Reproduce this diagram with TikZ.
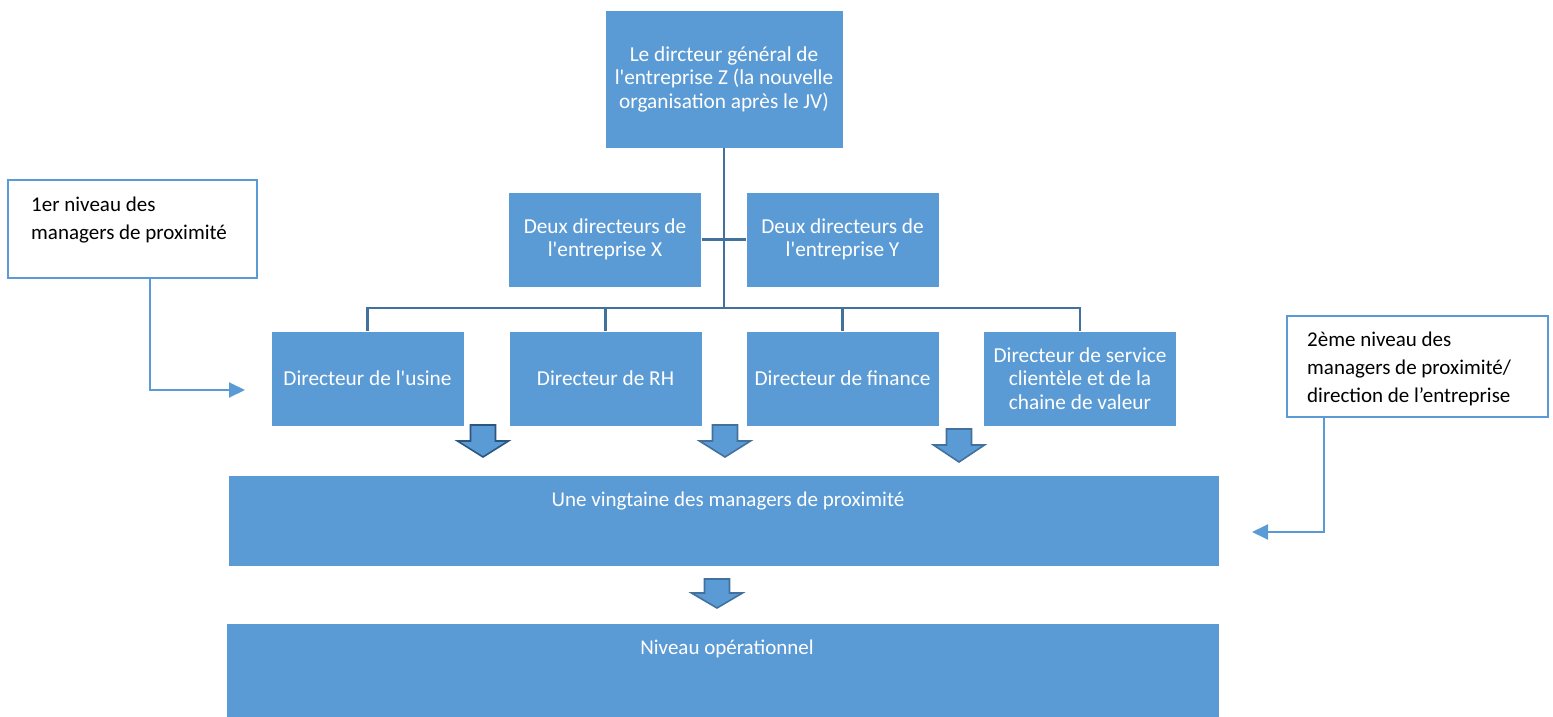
\documentclass[tikz,border=0pt]{standalone}
\usepackage{fontspec}
\setmainfont{Carlito}[Ligatures=TeXOff]
\usetikzlibrary{arrows.meta}
\definecolor{boxblue}{HTML}{5B9BD5}
\definecolor{linblue}{HTML}{41719C}
\definecolor{darkblue}{HTML}{2A5680}
\newcommand\blockarr[5]{%
  \filldraw[fill=boxblue, draw=#5, line width=1.6pt, line join=miter]
    (#1-12.5,#2) -- (#1+12.5,#2) -- (#1+12.5,#3) -- (#1+25.5,#3) -- (#1,#4)
    -- (#1-25.5,#3) -- (#1-12.5,#3) -- cycle;}
\begin{document}
\begin{tikzpicture}[x=1pt,y=-1pt,
  box/.style={draw=white, line width=0.8pt, fill=boxblue, text=white, align=center,
    inner sep=0pt, font=\fontsize{21.3}{23.5}\selectfont},
  std/.style={minimum width=193, minimum height=95},
  wtext/.style={text=white, inner sep=0pt, font=\fontsize{21}{23.5}\selectfont},
  conn/.style={draw=linblue, line width=2.2pt},
  callbox/.style={draw=boxblue, line width=1.2pt, fill=white, inner sep=0pt},
  ctext/.style={text=black, align=left, inner sep=0pt, font=\fontsize{21}{27.7}\selectfont},
  cline/.style={draw=boxblue, line width=2pt, -{Triangle[length=16pt,width=15pt]}}]
\useasboundingbox (0,0) rectangle (1553,717);

% org boxes
\node[box, minimum width=238, minimum height=138] (gen) at (724,79)
  {Le dircteur général de\\l'entreprise Z (la nouvelle\\organisation après le JV)};
\node[box,std] (dx) at (605,239.5) {Deux directeurs de\\l'entreprise X};
\node[box,std] (dy) at (842.5,239.5) {Deux directeurs de\\l'entreprise Y};
\node[box,std] (usine) at (367.5,378.5) {Directeur de l'usine};
\node[box,std] (rh) at (605.5,378.5) {Directeur de RH};
\node[box,std] (fin) at (842.5,378.5) {Directeur de finance};
\node[box,std] (svc) at (1080,378.5) {Directeur de service\\clientèle et de la\\chaine de valeur};

\node[box, minimum width=991, minimum height=91] (vint) at (723.5,520.5) {};
\node[wtext] (vintlbl) at (728,501) {Une vingtaine des managers de proximité};
\node[box, minimum width=993, minimum height=96] (op) at (722.5,671) {};
\node[wtext] (oplbl) at (727,649) {Niveau opérationnel};

% org connectors
\coordinate (hub) at (724,308);
\draw[conn] (gen.south) -- (hub);
\draw[conn] (dx.east) -- (dy.west);
\foreach \n in {usine,rh,fin,svc} \draw[conn] (hub) -| (\n.north);

% block arrows
\blockarr{483}{425}{441}{457}{darkblue}
\blockarr{725}{425}{441}{457}{linblue}
\blockarr{959}{429}{445}{462}{linblue}
\blockarr{717}{579}{593}{608}{linblue}

% callouts
\node[callbox, minimum width=249, minimum height=98] (c1) at (132.5,229) {};
\node[ctext, anchor=base west] (c1t) at (31,239) {1er niveau des\\managers de proximité};
\node[callbox, minimum width=261, minimum height=101] (c2) at (1417.5,366.5) {};
\node[ctext, anchor=base west] (c2t) at (1307,402) {2ème niveau des\\managers de proximité/\\direction de l’entreprise};

\coordinate (c1s) at (54,278);
\coordinate (c1k) at (150,278);
\coordinate (c1e) at (245,390);
\draw[cline] (c1s) -- (c1k) |- (c1e);
\coordinate (c2s) at (1324,417);
\coordinate (c2e) at (1252,532);
\draw[cline] (c2s) |- (c2e);
\end{tikzpicture}
\end{document}
